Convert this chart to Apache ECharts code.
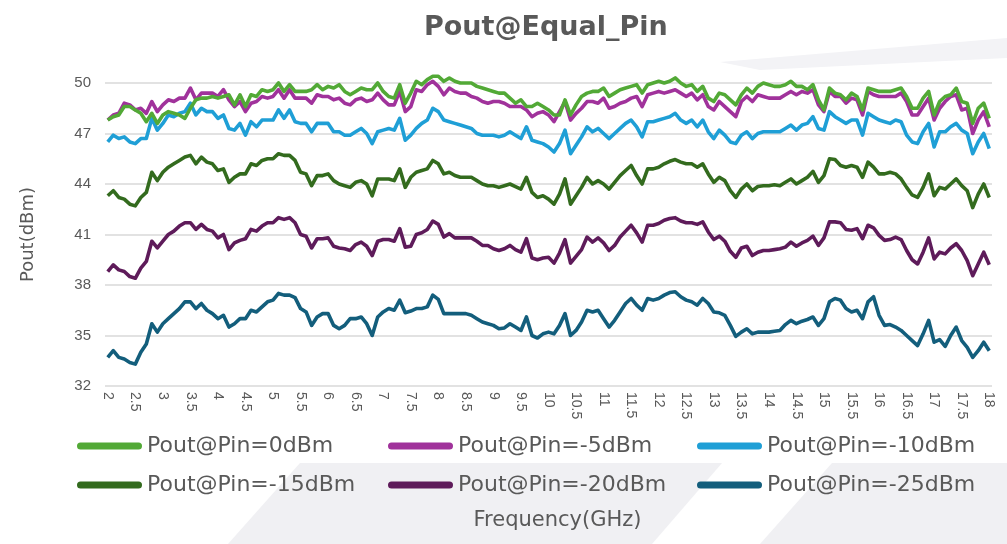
<!DOCTYPE html>
<html>
<head>
<meta charset="utf-8">
<title>Pout@Equal_Pin</title>
<script src="https://cdn.jsdelivr.net/npm/echarts@6/dist/echarts.min.js"></script>
<style>
html,body{margin:0;padding:0;background:#fff;}
#chart{width:1007px;height:544px;}
</style>
</head>
<body>
<div id="chart"></div>
<script>
// Frequency sampling grid (GHz), 2 to 18 in 0.1 GHz steps
const freqGHz = [];
for (let k = 0; k <= 160; k++) freqGHz.push(String(Math.round((2 + k * 0.1) * 10) / 10));

const yTicks = [32, 35, 38, 41, 44, 47, 50];

const seriesNames = ['Pout@Pin=0dBm','Pout@Pin=-5dBm','Pout@Pin=-10dBm','Pout@Pin=-15dBm','Pout@Pin=-20dBm','Pout@Pin=-25dBm'];
const seriesColors = ['#52a936','#a0329b','#1f9fd6','#336b1e','#5e1b5a','#135e7c'];

const pin0 = [
47.8,48.0,48.1,48.6,48.6,48.4,48.2,47.7,48.2,47.6,
48.1,48.3,48.2,48.1,47.9,48.5,49.0,49.1,49.1,49.2,
49.1,49.2,49.3,48.7,49.3,48.6,49.3,49.2,49.6,49.5,
49.6,50.0,49.5,49.9,49.5,49.5,49.5,49.6,49.9,49.6,
49.8,49.7,49.9,49.5,49.3,49.5,49.7,49.6,49.6,50.0,
49.5,49.2,49.1,49.9,48.8,49.4,50.1,49.9,50.2,50.4,
50.4,50.1,50.3,50.1,50.0,50.0,50.0,49.8,49.7,49.6,
49.5,49.4,49.4,49.1,48.8,49.0,48.6,48.6,48.8,48.6,
48.4,48.1,48.1,49.0,48.1,48.7,49.2,49.4,49.5,49.5,
49.7,49.2,49.4,49.6,49.7,49.8,49.9,49.4,49.9,50.0,
50.1,50.0,50.1,50.3,50.0,49.8,49.9,49.5,49.8,49.1,
48.9,49.4,49.3,49.0,48.7,49.3,49.7,49.4,49.8,50.0,
49.9,49.8,49.8,49.9,50.1,49.8,49.8,49.6,49.9,49.0,
48.4,49.7,49.4,49.3,49.0,49.4,49.2,48.4,49.7,49.6,
49.5,49.5,49.5,49.6,49.7,49.2,48.5,48.5,49.1,49.5,
48.1,48.9,49.2,49.3,49.7,48.9,48.8,47.6,48.5,48.8,47.9];

const pinM5 = [
47.8,48.1,48.2,48.8,48.7,48.4,48.5,48.2,48.9,48.3,
48.7,49.0,48.9,49.1,49.1,49.7,49.0,49.4,49.4,49.4,
49.2,49.6,49.0,48.6,48.9,48.3,48.8,48.9,49.2,49.1,
49.2,49.6,49.1,49.6,49.1,49.1,49.1,48.8,49.3,49.2,
49.2,49.0,49.1,48.8,48.7,49.0,49.1,48.9,49.0,49.4,
49.0,48.7,48.7,49.5,48.3,48.6,49.6,49.5,49.9,50.1,
49.8,49.3,49.7,49.5,49.4,49.4,49.2,49.1,48.9,48.8,
48.9,48.9,48.8,48.6,48.6,48.6,48.4,48.0,48.2,48.3,
48.1,47.7,48.3,48.9,47.8,48.2,48.5,48.9,48.9,48.8,
49.1,48.5,48.6,48.8,48.9,49.1,49.2,48.6,49.3,49.4,
49.5,49.4,49.5,49.6,49.4,49.2,49.4,49.0,49.3,48.6,
48.4,48.9,48.6,48.3,48.0,48.9,49.2,48.9,49.3,49.2,
49.1,49.1,49.1,49.3,49.5,49.3,49.5,49.4,49.6,48.7,
48.3,49.5,49.2,49.2,48.8,49.1,49.0,48.1,49.5,49.3,
49.2,49.2,49.2,49.2,49.4,48.9,48.1,48.1,48.6,49.1,
47.8,48.5,48.9,49.2,49.3,48.4,48.5,47.0,47.8,48.3,47.4];

const pinM10 = [
46.5,46.9,46.7,46.8,46.5,46.4,46.7,46.7,47.9,47.2,
47.6,48.1,48.0,48.2,48.3,48.8,48.1,48.5,48.3,48.3,
47.9,48.1,47.3,47.2,47.6,46.9,47.7,47.4,47.8,47.8,
47.8,48.4,47.9,48.4,47.7,47.6,47.6,47.1,47.6,47.6,
47.6,47.1,47.1,46.9,46.9,47.1,47.3,47.0,46.4,47.1,
47.2,47.3,47.2,47.9,46.6,46.9,47.3,47.6,47.8,48.5,
48.3,47.8,47.7,47.6,47.5,47.4,47.3,47.0,46.9,46.9,
46.9,46.8,46.9,47.1,46.9,46.7,47.4,46.6,46.5,46.4,
46.2,45.9,46.4,47.2,45.8,46.3,46.8,47.4,47.1,47.3,
47.0,46.7,47.0,47.3,47.6,47.8,47.4,46.8,47.7,47.7,
47.8,47.9,48.0,48.2,47.8,47.6,47.8,47.4,47.8,47.1,
46.7,47.2,46.9,46.5,46.4,46.9,47.1,46.7,47.0,47.1,
47.1,47.1,47.1,47.3,47.5,47.2,47.5,47.6,48.0,47.3,
47.2,48.3,48.0,47.8,47.6,47.8,47.8,46.9,48.2,48.0,
47.8,47.7,47.6,47.8,47.7,46.9,46.5,46.4,47.1,47.6,
46.2,47.1,47.1,47.4,47.6,47.2,47.0,45.8,46.5,47.0,46.1];

const pinM15 = [
43.3,43.6,43.2,43.1,42.8,42.7,43.2,43.5,44.7,44.2,
44.7,45.0,45.2,45.4,45.6,45.7,45.2,45.6,45.3,45.2,
44.8,44.9,44.1,44.4,44.6,44.6,45.2,45.1,45.4,45.5,
45.5,45.8,45.7,45.7,45.4,44.7,44.6,43.9,44.5,44.5,
44.6,44.2,44.0,43.9,43.8,44.1,44.2,44.0,43.3,44.3,
44.3,44.3,44.2,44.9,43.8,44.4,44.7,44.8,44.9,45.4,
45.2,44.6,44.7,44.5,44.4,44.4,44.4,44.2,44.0,43.9,
43.9,43.8,43.9,44.0,43.85,43.7,44.4,43.5,43.2,43.3,
43.1,42.8,43.4,44.3,42.8,43.3,43.8,44.4,44.0,44.2,
44.0,43.7,44.1,44.5,44.8,45.1,44.5,44.0,44.9,44.9,
45.0,45.2,45.35,45.45,45.3,45.2,45.2,45.0,45.2,44.6,
44.1,44.4,44.2,43.6,43.2,43.7,44.0,43.6,43.85,43.9,
43.9,43.95,43.9,44.1,44.3,44.0,44.2,44.4,44.75,44.1,
44.5,45.5,45.45,45.1,45.0,45.1,45.0,44.4,45.3,45.0,
44.6,44.6,44.7,44.6,44.3,43.8,43.35,43.2,43.8,44.6,
43.3,43.8,43.7,44.0,44.3,43.9,43.6,42.6,43.4,44.0,43.2];

const pinM20 = [
38.8,39.2,38.9,38.8,38.5,38.4,39.0,39.4,40.6,40.2,
40.6,41.0,41.2,41.5,41.7,41.7,41.3,41.6,41.3,41.2,
40.8,41.0,40.1,40.5,40.65,40.75,41.3,41.2,41.5,41.7,
41.7,42.0,41.9,42.0,41.7,41.0,40.9,40.2,40.75,40.75,
40.8,40.3,40.2,40.15,40.05,40.4,40.55,40.3,39.75,40.6,
40.7,40.7,40.6,41.35,40.25,40.3,41.0,41.1,41.3,41.8,
41.6,40.85,41.05,40.8,40.8,40.8,40.8,40.6,40.35,40.35,
40.15,40.05,40.15,40.35,40.1,39.95,40.75,39.6,39.5,39.6,
39.65,39.3,39.9,40.7,39.3,39.7,40.1,40.85,40.55,40.8,
40.5,40.05,40.35,40.85,41.2,41.55,41.1,40.55,41.55,41.55,
41.65,41.85,41.95,42.0,41.8,41.7,41.7,41.6,41.75,41.15,
40.7,40.9,40.6,40.0,39.65,40.2,40.3,39.75,39.95,40.05,
40.05,40.1,40.15,40.25,40.55,40.3,40.5,40.65,40.9,40.35,
40.8,41.75,41.75,41.7,41.3,41.25,41.35,40.75,41.55,41.4,
40.95,40.65,40.7,40.85,40.7,40.05,39.5,39.25,39.95,40.8,
39.55,39.95,39.85,40.2,40.45,40.05,39.45,38.55,39.25,39.95,39.2];

const pinM25 = [
33.7,34.1,33.7,33.6,33.4,33.3,34.0,34.5,35.7,35.2,
35.7,36.0,36.3,36.6,37.0,37.0,36.6,36.9,36.5,36.3,
36.0,36.2,35.5,35.7,36.0,36.0,36.5,36.4,36.7,37.0,
37.1,37.5,37.4,37.4,37.25,36.6,36.4,35.6,36.1,36.3,
36.3,35.6,35.4,35.6,36.0,36.0,36.1,35.7,35.0,36.1,
36.4,36.6,36.5,37.1,36.35,36.45,36.6,36.6,36.7,37.4,
37.15,36.3,36.3,36.3,36.3,36.3,36.2,36.0,35.8,35.7,
35.6,35.4,35.45,35.7,35.5,35.3,36.1,35.0,34.85,35.1,
35.2,35.1,35.6,36.3,35.0,35.3,35.8,36.5,36.4,36.5,
36.0,35.5,35.9,36.4,36.9,37.2,36.8,36.5,37.2,37.1,
37.2,37.4,37.55,37.6,37.3,37.1,37.0,36.8,37.2,36.9,
36.4,36.35,36.2,35.6,34.95,35.2,35.4,35.1,35.2,35.2,
35.2,35.25,35.3,35.65,35.9,35.7,35.85,35.95,36.1,35.6,
36.0,37.0,37.2,37.1,36.6,36.4,36.5,36.0,37.0,37.3,
36.2,35.6,35.65,35.5,35.3,35.0,34.7,34.4,35.1,35.9,
34.6,34.75,34.35,35.0,35.5,34.7,34.3,33.7,34.1,34.6,34.1];

const seriesData = [pin0, pinM5, pinM10, pinM15, pinM20, pinM25];

const legendLeft = [77, 388, 697];
const legendTop = [435, 474];
const pill = 'path://M3.5,0 L61.5,0 A3.5,3.5 0 0 1 61.5,7 L3.5,7 A3.5,3.5 0 0 1 3.5,0 Z';

const chart = echarts.init(document.getElementById('chart'), null, {renderer: 'canvas'});

const option = {
  backgroundColor: '#ffffff',
  animation: false,
  graphic: [
    {type: 'polygon', silent: true, z: -10, shape: {points: [[228,544],[300,463],[722,463],[652,544]]}, style: {fill: '#f0f0f3'}},
    {type: 'polygon', silent: true, z: -10, shape: {points: [[760,544],[832,463],[1007,463],[1007,544]]}, style: {fill: '#f0f0f3'}},
    {type: 'polygon', silent: true, z: -10, shape: {points: [[720,62],[1007,38],[1007,58],[760,70]]}, style: {fill: '#f3f3f6'}}
  ],
  title: {
    text: 'Pout@Equal_Pin',
    left: 419,
    top: 9,
    textStyle: {fontFamily: 'DejaVu Sans', fontWeight: 'bold', fontSize: 27, color: '#595959'}
  },
  grid: {left: 105, right: 15, top: 83, bottom: 158},
  xAxis: {
    type: 'category',
    data: freqGHz,
    boundaryGap: true,
    axisLine: {show: false},
    axisTick: {show: false},
    axisLabel: {interval: 4, rotate: -90, fontSize: 14, color: '#595959', margin: 6, fontFamily: 'Liberation Sans'},
    name: 'Frequency(GHz)',
    nameLocation: 'middle',
    nameGap: 124,
    nameTextStyle: {fontSize: 21, color: '#595959', fontFamily: 'DejaVu Sans', padding: [0, 0, 0, 18]}
  },
  yAxis: {
    type: 'value',
    min: yTicks[0],
    max: yTicks[yTicks.length - 1],
    interval: 3,
    axisLine: {show: false},
    axisTick: {show: false},
    axisLabel: {fontSize: 15, color: '#595959', margin: 14, fontFamily: 'Liberation Sans'},
    splitLine: {lineStyle: {color: '#d9d9d9', width: 1.5}},
    name: 'Pout(dBm)',
    nameLocation: 'middle',
    nameGap: 68,
    nameTextStyle: {fontSize: 18, color: '#595959', fontFamily: 'DejaVu Sans'}
  },
  legend: seriesNames.map((n, k) => ({
    data: [n],
    left: legendLeft[k % 3],
    top: legendTop[Math.floor(k / 3)],
    padding: 0,
    itemWidth: 65,
    itemHeight: 7,
    icon: pill,
    selectedMode: false,
    textStyle: {fontSize: 22, color: '#595959', fontFamily: 'DejaVu Sans'}
  })),
  series: seriesNames.map((n, k) => ({
    name: n,
    type: 'line',
    data: seriesData[k],
    showSymbol: false,
    symbol: 'none',
    clip: false,
    itemStyle: {color: seriesColors[k]},
    lineStyle: {color: seriesColors[k], width: 3.6, join: 'round'},
    z: 2 + (5 - k)
  }))
};

chart.setOption(option);
</script>
</body>
</html>
